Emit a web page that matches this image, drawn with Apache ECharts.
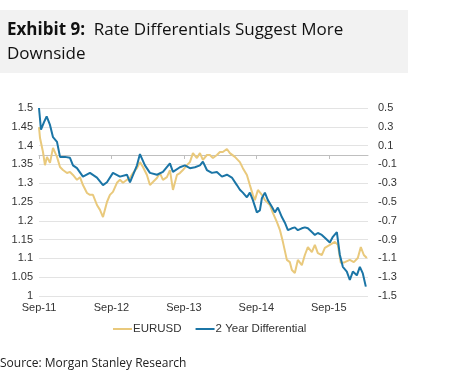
<!DOCTYPE html>
<html>
<head>
<meta charset="utf-8">
<script src="https://cdn.jsdelivr.net/npm/echarts@6/dist/echarts.min.js"></script>
<style>html,body{margin:0;padding:0;background:#fff;}#c{width:472px;height:381px;}</style>
</head>
<body>
<div id="c"></div>
<script>
// months since Sep-2011
const eurMonths = [0,0.17,0.66,0.99,1.32,1.82,2.32,2.98,3.48,3.97,4.64,5.13,5.63,6.29,6.79,7.28,7.95,8.44,8.94,9.6,10.1,10.6,11.26,11.75,12.25,12.91,13.41,13.91,14.57,15.07,15.56,16.23,16.72,17.22,17.88,18.38,18.87,19.54,20.03,20.53,21.19,21.69,22.19,22.85,23.34,23.84,24.5,25.0,25.5,26.16,26.66,27.15,27.81,28.31,28.81,29.47,29.97,30.46,31.13,31.62,32.45,33.28,33.77,34.44,34.93,35.43,35.76,36.26,36.92,37.42,38.25,38.74,39.4,39.9,40.4,41.06,41.56,41.89,42.38,42.88,43.54,44.04,44.54,45.2,45.7,46.19,46.85,47.35,48.18,49.01,49.5,50.0,50.66,51.49,52.15,52.81,53.31,53.81,54.3];
const eurusd = [1.449,1.42,1.383,1.348,1.37,1.354,1.394,1.37,1.343,1.335,1.327,1.33,1.322,1.309,1.316,1.295,1.274,1.269,1.269,1.242,1.229,1.21,1.25,1.269,1.277,1.301,1.309,1.301,1.309,1.314,1.327,1.34,1.356,1.343,1.322,1.295,1.303,1.314,1.327,1.309,1.316,1.335,1.282,1.322,1.327,1.335,1.348,1.356,1.38,1.367,1.38,1.362,1.375,1.375,1.367,1.375,1.383,1.383,1.391,1.38,1.37,1.356,1.34,1.322,1.295,1.269,1.255,1.282,1.269,1.255,1.242,1.221,1.197,1.176,1.144,1.096,1.09,1.069,1.061,1.096,1.082,1.109,1.13,1.117,1.136,1.114,1.109,1.128,1.136,1.144,1.136,1.088,1.09,1.096,1.09,1.101,1.13,1.109,1.101];
const diffMonths = [0,0.33,0.83,1.27,1.82,2.32,2.98,3.48,4.3,5.13,5.63,6.29,7.28,8.44,9.6,10.6,11.26,12.25,13.41,14.57,15.07,16.23,16.72,17.55,18.38,19.54,20.53,21.69,22.19,23.34,24.17,25.0,25.83,26.66,27.15,27.81,28.64,29.47,30.3,31.13,31.95,32.78,33.28,33.77,34.44,34.93,35.43,36.09,36.59,36.92,37.42,37.91,38.58,39.07,39.57,40.23,40.73,41.23,41.89,42.38,42.88,43.54,44.04,44.54,45.2,45.7,46.19,46.85,47.35,48.18,48.68,49.34,49.83,50.33,50.99,51.49,51.99,52.65,53.15,53.64,54.14];
const differential = [0.5,0.27,0.35,0.41,0.32,0.19,0.14,-0.02,-0.02,-0.03,-0.11,-0.14,-0.23,-0.19,-0.24,-0.32,-0.29,-0.19,-0.23,-0.21,-0.29,-0.11,0.01,-0.11,-0.19,-0.21,-0.18,-0.09,-0.18,-0.13,-0.11,-0.14,-0.13,-0.11,-0.07,-0.16,-0.19,-0.18,-0.23,-0.21,-0.24,-0.32,-0.37,-0.4,-0.45,-0.4,-0.48,-0.61,-0.59,-0.46,-0.4,-0.48,-0.55,-0.61,-0.56,-0.66,-0.72,-0.8,-0.78,-0.77,-0.8,-0.78,-0.77,-0.78,-0.82,-0.85,-0.83,-0.85,-0.88,-0.93,-0.87,-0.82,-1.06,-1.19,-1.24,-1.33,-1.24,-1.28,-1.19,-1.26,-1.4];
const xTickLabels = ['Sep-11','Sep-12','Sep-13','Sep-14','Sep-15'];
const seriesNames = ['EURUSD','2 Year Differential'];

const chart = echarts.init(document.getElementById('c'));
const axisFont = {fontFamily:'Liberation Sans, Arial, sans-serif', fontSize:11, color:'#333'};
chart.setOption({
  animation:false,
  graphic:[
    {type:'rect', shape:{x:0,y:10,width:408,height:63}, style:{fill:'#f2f2f2'}, silent:true},
    {type:'text', left:7, top:18, style:{
      text:'{b|Exhibit 9:}  Rate Differentials Suggest More\nDownside',
      rich:{b:{fontWeight:'bold', fontSize:17, fontFamily:'Open Sans', fill:'#111'}},
      fontSize:17, fontFamily:'Open Sans', fill:'#111', lineHeight:24}},
    {type:'text', left:0, top:358, style:{text:'Source: Morgan Stanley Research', fontSize:12, fontFamily:'Open Sans', fill:'#222'}}
  ],
  grid:{left:39, right:104, top:108, bottom:85},
  legend:{
    left:108, top:318, itemWidth:19, itemHeight:2, itemGap:14,
    icon:'rect',
    textStyle:{fontFamily:'Liberation Sans, Arial, sans-serif', fontSize:11.5, color:'#333', padding:[0,0,0,-4]},
    data:seriesNames
  },
  xAxis:{
    type:'value', min:0, max:54.5, interval:12,
    axisLine:{show:true, lineStyle:{color:'#bfbfbf'}},
    axisTick:{show:true, length:4, lineStyle:{color:'#bfbfbf'}},
    splitLine:{show:false},
    axisLabel:Object.assign({margin:6, formatter:v=>xTickLabels[Math.round(v/12)]||'', showMaxLabel:false}, axisFont)
  },
  yAxis:[
    {type:'value', min:1, max:1.5, interval:0.05,
     axisLine:{show:false}, axisTick:{show:false},
     splitLine:{lineStyle:{color:'#e3e3e3'}},
     axisLabel:Object.assign({margin:6}, axisFont)},
    {type:'value', min:-1.5, max:0.5, alignTicks:true, position:'right',
     axisLine:{show:false}, axisTick:{show:false},
     splitLine:{show:false},
     axisLabel:Object.assign({margin:10, formatter:v=>v.toFixed(1)}, axisFont)}
  ],
  series:[
    {name:seriesNames[0], type:'line', yAxisIndex:0, showSymbol:false, symbol:'none',
     lineStyle:{color:'#e9c97c', width:2}, itemStyle:{color:'#e9c97c'},
     data:eurMonths.map((m,i)=>[m, eurusd[i]])},
    {name:seriesNames[1], type:'line', yAxisIndex:1, showSymbol:false, symbol:'none',
     lineStyle:{color:'#1b75a6', width:2}, itemStyle:{color:'#1b75a6'},
     data:diffMonths.map((m,i)=>[m, differential[i]])}
  ]
});
</script>
</body>
</html>
